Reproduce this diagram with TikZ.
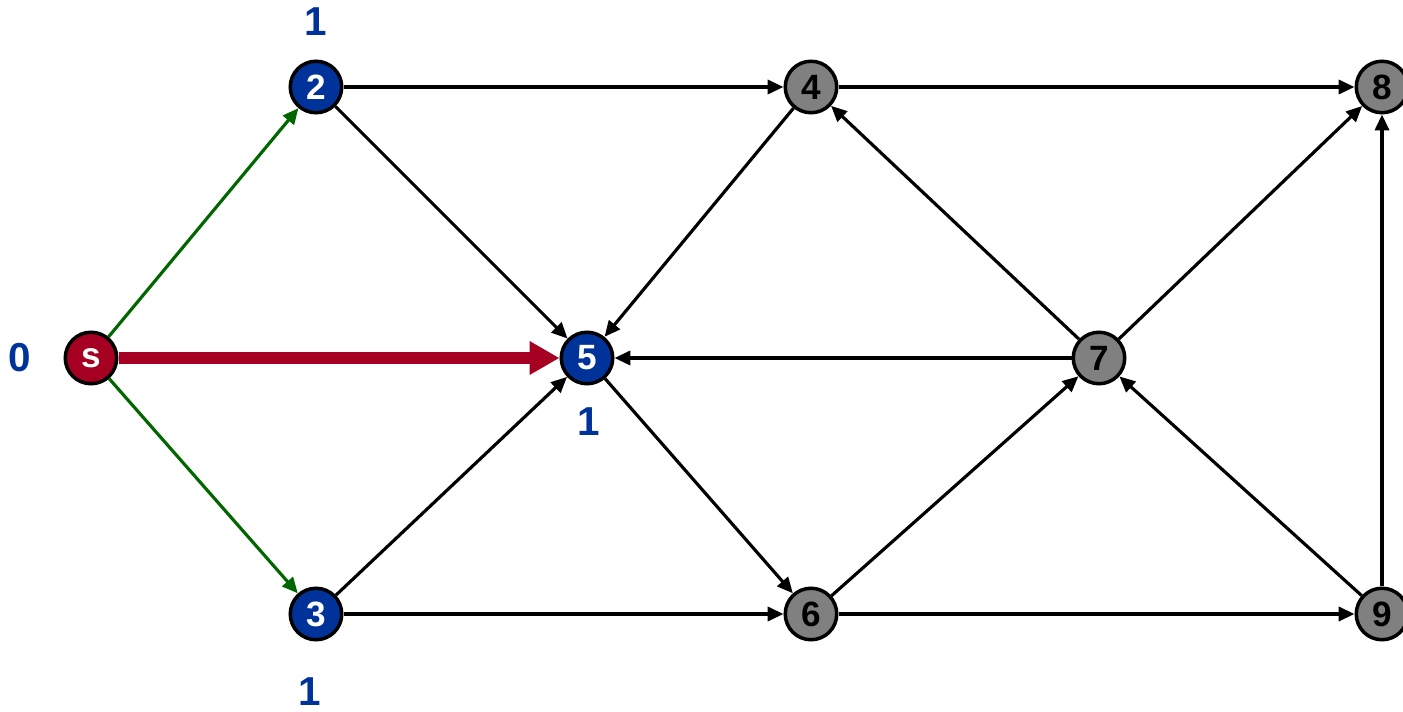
\documentclass[tikz,border=0pt]{standalone}
\usepackage{fontspec}
\setmainfont{Liberation Sans}
\usepackage{xcolor}
\usepackage{tikz}
\usetikzlibrary{arrows.meta}

\definecolor{bfsblue}{RGB}{0,51,153}
\definecolor{bfsred}{RGB}{165,0,33}
\definecolor{bfsgreen}{RGB}{0,102,0}
\definecolor{bfsgray}{RGB}{128,128,128}

\begin{document}
\begin{tikzpicture}[
    x=0.02cm, y=-0.02cm,
    vertex/.style={circle, draw=black, line width=2pt, fill=#1, minimum size=1.03cm, inner sep=0pt, font=\fontsize{20}{20}\selectfont\bfseries},
    dist/.style={text=bfsblue, font=\fontsize{23}{23}\selectfont\bfseries},
    arrow/.style={-{Triangle[length=9pt, width=8pt]}, line width=1.8pt, draw=black},
    tree/.style={-{Triangle[length=9pt, width=8pt]}, line width=1.8pt, draw=bfsgreen},
    current/.style={-{Triangle[length=17pt, width=18pt]}, line width=6.8pt, draw=bfsred}
]
    \useasboundingbox (0,0) rectangle (1403,712);

    % Source and frontier
    \node[vertex=bfsred, text=white] (s) at (91,358) {s};
    \node[vertex=bfsblue, text=white] (n2) at (316,87) {2};
    \node[vertex=bfsblue, text=white] (n3) at (316,614) {3};
    \node[vertex=bfsblue, text=white] (n5) at (587,358) {5};

    % Unvisited
    \node[vertex=bfsgray] (n4) at (811,87) {4};
    \node[vertex=bfsgray] (n6) at (811,614) {6};
    \node[vertex=bfsgray] (n7) at (1099,358) {7};
    \node[vertex=bfsgray] (n8) at (1382,87) {8};
    \node[vertex=bfsgray] (n9) at (1382,614) {9};

    % Distances
    \node[dist] (d0) at (20,358) {0};
    \node[dist] (d2) at (316,22) {1};
    \node[dist] (d5) at (589,422) {1};
    \node[dist] (d3) at (310,692) {1};

    % Edges
    \draw[tree] (s) -- (n2);
    \draw[tree] (s) -- (n3);
    \draw[current] (s) -- (n5);
    \draw[arrow] (n2) -- (n4);
    \draw[arrow] (n2) -- (n5);
    \draw[arrow] (n3) -- (n5);
    \draw[arrow] (n3) -- (n6);
    \draw[arrow] (n4) -- (n5);
    \draw[arrow] (n4) -- (n8);
    \draw[arrow] (n5) -- (n6);
    \draw[arrow] (n7) -- (n5);
    \draw[arrow] (n7) -- (n4);
    \draw[arrow] (n7) -- (n8);
    \draw[arrow] (n6) -- (n7);
    \draw[arrow] (n6) -- (n9);
    \draw[arrow] (n9) -- (n7);
    \draw[arrow] (n9) -- (n8);
\end{tikzpicture}
\end{document}
